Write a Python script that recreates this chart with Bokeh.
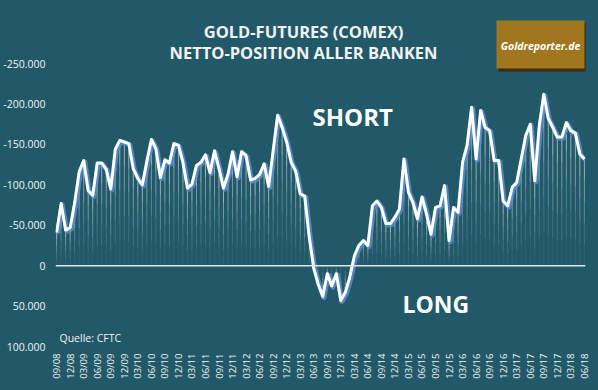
import numpy as np
from bokeh.plotting import figure
from bokeh.models import (Range1d, FixedTicker, Span, Label, BoxAnnotation,
                          ColumnDataSource)
from bokeh.transform import dodge
from bokeh.embed import file_html
from bokeh.resources import INLINE

# ---- data: net position of all banks, Gold futures COMEX (monthly, 09/08 .. 06/18)
# values in contracts; negative = net short (shown upward, axis reversed)
short_thousands = [
    41, 77, 44, 47, 78, 116, 130, 93, 87, 127, 127, 119, 95, 144, 155, 153, 151, 120,
    108, 100, 129, 156, 145, 109, 131, 127, 151, 149, 128, 96, 101, 124, 128, 137, 115,
    142, 120, 96, 113, 141, 110, 141, 136, 106, 108, 113, 126, 98, 142, 186, 171, 153,
    128, 117, 89, 86, 36, -3, -23, -38, -10, -25, -10, -43, -33, -14, 12, 25, 31, 25,
    74, 80, 72, 52, 52, 60, 70, 132, 91, 78, 58, 85, 64, 39, 72, 74, 99, 31, 72, 66,
    128, 149, 196, 132, 192, 171, 167, 130, 130, 80, 74, 97, 103, 132, 161, 175, 105,
    173, 212, 182, 171, 159, 159, 177, 167, 164, 138, 132,
]
net_position = [-v * 1000 for v in short_thousands]
month_index = list(range(len(net_position)))

tick_labels = [
    "09/08", "12/08", "03/09", "06/09", "09/09", "12/09", "03/10", "06/10", "09/10", "12/10",
    "03/11", "06/11", "09/11", "12/11", "03/12", "06/12", "09/12", "12/12", "03/13", "06/13",
    "09/13", "12/13", "03/14", "06/14", "09/14", "12/14", "03/15", "06/15", "09/15", "12/15",
    "03/16", "06/16", "09/16", "12/16", "03/17", "06/17", "09/17", "12/17", "03/18", "06/18",
]
tick_positions = [3 * k for k in range(len(tick_labels))]

y_ticks = [-250000, -200000, -150000, -100000, -50000, 0, 50000, 100000]
y_tick_labels = ["-250.000", "-200.000", "-150.000", "-100.000", "-50.000", "0",
                 "50.000", "100.000"]

title_lines = ["GOLD-FUTURES (COMEX)", "NETTO-POSITION ALLER BANKEN"]

# ---- style
BG = "#215968"
FONT = "Open Sans"
TXT = "#f2f2f2"

p = figure(width=598, height=390, output_backend="svg", toolbar_location=None,
           x_range=Range1d(-0.25, 117.25), y_range=Range1d(100000, -328000),
           min_border_left=53, min_border_right=13, min_border_top=0,
           min_border_bottom=44, background_fill_color=BG, border_fill_color=None,
           outline_line_color=None)
p.styles = {"background-color": BG}
p.xgrid.visible = False
p.ygrid.visible = False

src = ColumnDataSource(dict(x=month_index, y=net_position))

# fading drop lines
yarr = np.array(net_position, dtype=float)
fracs = [1.0, 0.8, 0.6, 0.4, 0.2, 0.0]
alphas = [0.55, 0.4, 0.27, 0.15, 0.06]
for k in range(5):
    p.segment(x0=month_index, x1=month_index, y0=list(yarr * fracs[k]),
              y1=list(yarr * fracs[k + 1]), line_color="white", line_width=1,
              line_alpha=alphas[k])

p.add_layout(Span(location=0, dimension="width", line_color="#dfe6e9", line_width=1.5))

# glow + line
p.line(x=dodge("x", 0.25, range=p.x_range), y=dodge("y", 1500, range=p.y_range),
       source=src, line_color="#5a8fd6", line_width=5, line_alpha=0.8,
       line_join="round")
p.line(x="x", y="y", source=src, line_color="white", line_width=3, line_join="round")

# axes
p.yaxis.ticker = FixedTicker(ticks=y_ticks)
p.yaxis.major_label_overrides = {t: l for t, l in zip(y_ticks, y_tick_labels)}
p.yaxis.axis_line_color = None
p.yaxis.major_tick_line_color = None
p.yaxis.minor_tick_line_color = None
p.yaxis.major_tick_out = 0
p.yaxis.major_tick_in = 0
p.yaxis.major_label_standoff = 10
p.yaxis.major_label_text_font = FONT
p.yaxis.major_label_text_font_size = "10.5px"
p.yaxis.major_label_text_color = TXT

p.xaxis.ticker = FixedTicker(ticks=tick_positions)
p.xaxis.major_label_overrides = {t: l for t, l in zip(tick_positions, tick_labels)}
p.xaxis.major_label_orientation = np.pi / 2
p.xaxis.axis_line_color = None
p.xaxis.major_tick_line_color = None
p.xaxis.minor_tick_line_color = None
p.xaxis.major_tick_out = 0
p.xaxis.major_tick_in = 0
p.xaxis.major_label_standoff = 7
p.xaxis.major_label_text_font = FONT
p.xaxis.major_label_text_font_size = "9.5px"
p.xaxis.major_label_text_color = TXT

# titles (screen units relative to the frame)
for txt, yy in zip(title_lines, [315, 294]):
    p.add_layout(Label(x=248, y=yy, x_units="screen", y_units="screen", text=txt,
                       text_align="center", text_baseline="middle",
                       text_font=FONT, text_font_size="16.5px",
                       text_font_style="bold", text_color=TXT))

# logo
p.add_layout(BoxAnnotation(left=443, right=531, bottom=275, top=324,
                           left_units="screen", right_units="screen",
                           bottom_units="screen", top_units="screen",
                           fill_color="#3b2b08", fill_alpha=1, line_color=None))
p.add_layout(BoxAnnotation(left=441, right=529, bottom=278, top=326,
                           left_units="screen", right_units="screen",
                           bottom_units="screen", top_units="screen",
                           fill_color="#a0771f", fill_alpha=1, line_color=None))
p.add_layout(Label(x=485, y=301, x_units="screen", y_units="screen",
                   text="Goldreporter.de", text_align="center", text_baseline="middle",
                   text_font=FONT, text_font_size="10.5px",
                   text_font_style="bold italic", text_color="white"))

# SHORT / LONG / source
p.add_layout(Label(x=257, y=230.5, x_units="screen", y_units="screen", text="SHORT",
                   text_align="left", text_baseline="middle", text_font=FONT,
                   text_font_size="24px", text_font_style="bold", text_color="white"))
p.add_layout(Label(x=347, y=42.5, x_units="screen", y_units="screen", text="LONG",
                   text_align="left", text_baseline="middle", text_font=FONT,
                   text_font_size="23px", text_font_style="bold", text_color="white"))
p.add_layout(Label(x=4, y=9, x_units="screen", y_units="screen", text="Quelle: CFTC",
                   text_align="left", text_baseline="middle", text_font=FONT,
                   text_font_size="10.5px", text_color=TXT))

open("out.html", "w").write(file_html(p, INLINE))
